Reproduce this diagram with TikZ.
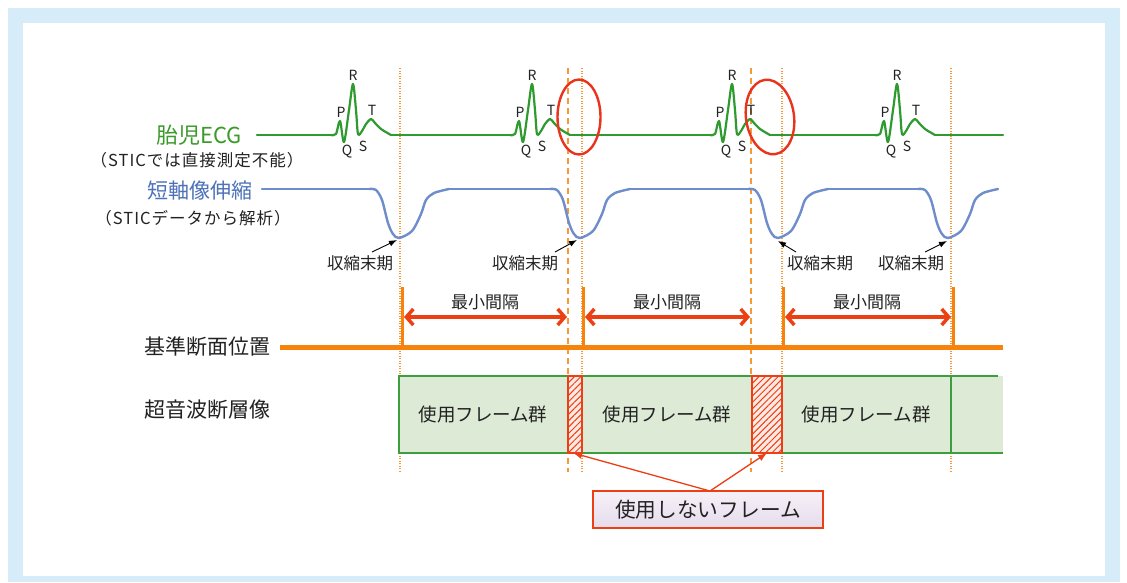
\documentclass[tikz,border=0pt]{standalone}
\usepackage{fontspec}
\setmainfont{Noto Sans CJK JP}
\newfontfamily\subfont[LetterSpace=6]{Noto Sans CJK JP}
\usetikzlibrary{arrows.meta,patterns.meta,shapes.geometric}
\definecolor{framebg}{HTML}{D6ECF9}
\definecolor{txt}{HTML}{222222}
\definecolor{ecggreen}{HTML}{2F9A2F}
\definecolor{lblgreen}{HTML}{3A9A2A}
\definecolor{saxblue}{HTML}{6F8CCB}
\definecolor{lblblue}{HTML}{4D72B9}
\definecolor{orng}{HTML}{F7820C}
\definecolor{vline}{HTML}{F39A3C}
\definecolor{redc}{HTML}{EC3F14}
\definecolor{ellred}{HTML}{E8341C}
\definecolor{boxfill}{HTML}{DDEAD6}
\definecolor{boxline}{HTML}{3C9E3C}
\definecolor{hatchbg}{HTML}{FCE9E4}
\definecolor{calltop}{HTML}{F6F1F8}
\definecolor{callbot}{HTML}{E6DCEC}
\begin{document}
\begin{tikzpicture}[x=1pt,y=-1pt,
  lbl/.style={font=\fontsize{21}{24}\selectfont, text=txt, inner sep=0pt},
  framelbl/.style={font=\fontsize{18.5}{22}\selectfont, text=txt, inner sep=0pt},
  sublbl/.style={font=\subfont\fontsize{16.5}{18}\selectfont, text=txt, inner sep=0pt},
  wav/.style={font=\fontsize{14}{16}\selectfont, text=txt, inner sep=0pt},
  endsys/.style={font=\fontsize{16.5}{20}\selectfont, text=txt, inner sep=0pt},
  gaplbl/.style={font=\fontsize{17}{20}\selectfont, text=txt, inner sep=0pt},
  ecg/.style={draw=ecggreen, line width=2.2pt, line join=round, line cap=round},
  sax/.style={draw=saxblue, line width=2.4pt, line join=round, line cap=round},
  dashv/.style={draw=vline, line width=1.3pt, dash pattern=on 6pt off 4pt},
  dotv/.style={draw=vline, line width=1.1pt, dash pattern=on 1.2pt off 1.3pt},
  redell/.style={draw=ellred, line width=2.4pt, ellipse, inner sep=0pt},
  blackarrow/.style={draw=black, line width=0.9pt, -{Latex[length=8pt,width=6pt]}},
  gaparrow/.style={draw=redc, line width=3.5pt, {Straight Barb[length=7pt,width=16pt]}-{Straight Barb[length=7pt,width=16pt]}},
  usedbox/.style={fill=boxfill, draw=boxline, line width=1.2pt},
  hatchbox/.style={fill=hatchbg, draw=redc, line width=1.1pt},
  callarrow/.style={draw=redc, line width=1.3pt, -{Latex[length=9pt,width=7pt]}}
]
% frame
\fill[white] (0,0) rectangle (1127,582);
\fill[framebg] (8,8) rectangle (1120,582);
\fill[white] (23,23) rectangle (1105,576);

% vertical guide lines
\foreach \x in {568,751} \draw[dashv] (\x,68) -- (\x,472);
\foreach \x in {400,582,782,951} \draw[dotv] (\x,68) -- (\x,472);

% left labels
\node[lbl, text=lblgreen, font=\fontsize{22}{24}\selectfont] (ecglbl) at (199,135) {胎児ECG};
\node[sublbl] (ecgsub) at (197,160) {（STICでは直接測定不能）};
\node[lbl, text=lblblue] (saxlbl) at (200,191) {短軸像伸縮};
\node[sublbl] (saxsub) at (193,218) {（STICデータから解析）};
\node[lbl] (reflbl) at (207,347) {基準断面位置};
\node[lbl] (uslbl) at (207,410) {超音波断層像};

% ECG
\draw[ecg] (257,135) -- (331,135);
\draw[ecg] (391,135) -- (510,135);
\draw[ecg] (570,135) -- (710,135);
\draw[ecg] (770,135) -- (875,135);
\draw[ecg] (935,135) -- (1003,135);
\foreach \r in {353,532,732,897} {
  \draw[ecg] plot[smooth,tension=0.5] coordinates {(\r-22,135) (\r-17,134) (\r-13,121) (\r-9,142) (\r-4,110) (\r,84) (\r+3,110) (\r+5,134) (\r+9,131) (\r+13,124) (\r+18,119) (\r+22,123) (\r+28,129) (\r+38,135)};
  \node[wav] (P\r) at (\r-12,112) {P};
  \node[wav] (R\r) at (\r,75) {R};
  \node[wav] (T\r) at (\r+19,110) {T};
  \node[wav] (Q\r) at (\r-6,152) {Q};
  \node[wav] (S\r) at (\r+10,146) {S};
}
\node[redell, minimum width=43pt, minimum height=75pt] (ell1) at (579,117) {};
\node[redell, minimum width=48pt, minimum height=75pt, rotate=8] (ell2) at (770,117) {};

% short axis
\draw[sax] (262,189) -- (369,189);
\draw[sax] (449,189) -- (550,189);
\draw[sax] (630,189) -- (748,189);
\draw[sax] (828,189) -- (918,189);
\foreach \m in {399,580,778,948} {
  \draw[sax] plot[smooth,tension=0.5] coordinates {(\m-30,189) (\m-23,190) (\m-17,200) (\m-11,223) (\m-6,234) (\m,238) (\m+13,231) (\m+22,214) (\m+27,200) (\m+35,193) (\m+50,189)};
}

% end-systole labels
\node[endsys] (es1) at (360,263) {収縮末期};
\node[endsys] (es2) at (525,263) {収縮末期};
\node[endsys] (es3) at (820,263) {収縮末期};
\node[endsys] (es4) at (911,263) {収縮末期};
\coordinate (es1s) at (372,252); \coordinate (es1t) at (397,240);
\coordinate (es2s) at (555,252); \coordinate (es2t) at (577,240);
\coordinate (es3s) at (796,252); \coordinate (es3t) at (778,241);
\coordinate (es4s) at (925,252); \coordinate (es4t) at (947,241);
\draw[blackarrow] (es1s) -- (es1t);
\draw[blackarrow] (es2s) -- (es2t);
\draw[blackarrow] (es3s) -- (es3t);
\draw[blackarrow] (es4s) -- (es4t);

% reference plane timeline
\coordinate (tl0) at (280,347); \coordinate (tl1) at (1003,347);
\draw[orng, line width=5pt] (tl0) -- (tl1);
\foreach \x in {402,583,783,953} \draw[orng, line width=3pt] (\x,287) -- (\x,347);

% minimum interval arrows
\coordinate (g1a) at (404,317); \coordinate (g1b) at (567,317);
\coordinate (g2a) at (585,317); \coordinate (g2b) at (750,317);
\coordinate (g3a) at (785,317); \coordinate (g3b) at (951,317);
\draw[gaparrow] (g1a) -- (g1b);
\draw[gaparrow] (g2a) -- (g2b);
\draw[gaparrow] (g3a) -- (g3b);
\node[gaplbl] (gl1) at (485,302) {最小間隔};
\node[gaplbl] (gl2) at (667,302) {最小間隔};
\node[gaplbl] (gl3) at (867,302) {最小間隔};

% ultrasound frames
\draw[usedbox] (399,376) rectangle (568,453);
\draw[usedbox] (582,376) rectangle (752,453);
\draw[usedbox] (782,376) rectangle (951,453);
\fill[boxfill] (951,376) rectangle (1003,453);
\draw[boxline, line width=1.2pt] (998,376) -- (951,376) -- (951,453) -- (1003,453);
\draw[hatchbox] (568,376) rectangle (582,453);
\draw[hatchbox] (752,376) rectangle (782,453);
\fill[pattern={Lines[angle=45,distance=4.5pt,line width=1pt]}, pattern color=redc] (568,376) rectangle (582,453);
\fill[pattern={Lines[angle=45,distance=4.5pt,line width=1pt]}, pattern color=redc] (752,376) rectangle (782,453);
\coordinate (h1) at (573,453);
\coordinate (h2) at (767,453);
\node[framelbl] (u1) at (483,414) {使用フレーム群};
\node[framelbl] (u2) at (667,414) {使用フレーム群};
\node[framelbl] (u3) at (866,414) {使用フレーム群};

% callout
\node[draw=redc, line width=2pt, top color=calltop, bottom color=callbot, minimum width=230pt, minimum height=37pt, inner sep=0pt, font=\fontsize{20.7}{24}\selectfont, text=txt] (call) at (708,509.5) {使用しないフレーム};
\coordinate (cs) at (710,491);
\draw[callarrow] (cs) -- (h1);
\draw[callarrow] (cs) -- (h2);
\end{tikzpicture}
\end{document}
